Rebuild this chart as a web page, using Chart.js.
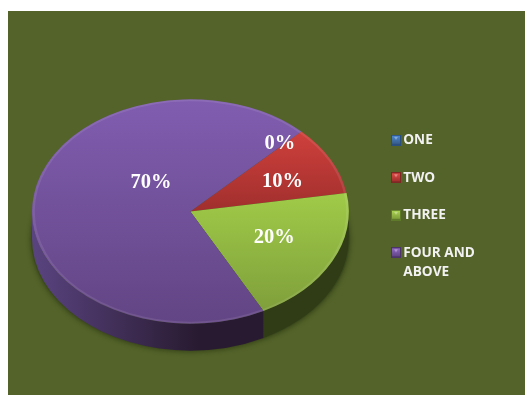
<!DOCTYPE html>
<html>
<head>
<meta charset="utf-8">
<style>html,body{margin:0;padding:0;background:#fff}canvas{display:block}</style>
<script src="https://cdn.jsdelivr.net/npm/chart.js@4"></script>
</head>
<body>
<canvas id="pie" width="525" height="395"></canvas>
<script>
const categories = ['ONE', 'TWO', 'THREE', ['FOUR AND', 'ABOVE']];
const shares = [0, 10, 20, 70];
const sliceTop = ['#4f81bd', '#cf403c', '#a0cb48', '#815db0'];
const sliceBottom = ['#385d8a', '#a02f2d', '#7f9f3b', '#624584'];
const wallStops = [
  ['#2c4668', '#2c4668'],
  ['#5c2422', '#5c2422'],
  ['#2f3c15', '#3f4f20'],
  ['#5a4480', '#281a30']
];
const legendSwatchTop = ['#4a86d0', '#e04a45', '#a9d44f', '#8f66c4'];
const legendSwatchEdge = ['#2b4f7e', '#7e2826', '#5f7a2b', '#4c3468'];

const TILT = 0.708;
const DEPTH = 27;
const ROTATION = 44.5;
const PANEL = { x: 8, y: 11, color: '#536329' };
const LEGEND_AT = { x: 395.5, y: 133.5 };
const labelNudge = [[34, -27.5], [22, -4], [13, 1], [39, -21]];

// Small bevelled square used as the legend marker.
function swatch(i) {
  const c = document.createElement('canvas');
  c.width = 10; c.height = 11;
  const g = c.getContext('2d');
  g.fillStyle = legendSwatchEdge[i];
  g.fillRect(0, 0, 10, 11);
  const grad = g.createLinearGradient(0, 1, 0, 9);
  grad.addColorStop(0, legendSwatchTop[i]);
  grad.addColorStop(1, sliceBottom[i]);
  g.fillStyle = grad;
  g.fillRect(1, 1, 8, 8);
  g.fillStyle = 'rgba(255,255,255,0.35)';
  g.beginPath(); g.moveTo(3, 2); g.lineTo(7, 2); g.lineTo(5, 5); g.closePath(); g.fill();
  return c;
}

// Vertical gradient spanning the on-screen extent of one slice.
function sliceFill(ctx) {
  const chart = ctx.chart, area = chart.chartArea, i = ctx.dataIndex;
  if (!area) return sliceTop[i];
  const total = shares.reduce((a, b) => a + b, 0);
  const before = shares.slice(0, i).reduce((a, b) => a + b, 0);
  const rot = ROTATION * Math.PI / 180 - Math.PI / 2;
  const a0 = rot + 2 * Math.PI * before / total;
  const a1 = a0 + 2 * Math.PI * shares[i] / total;
  const cy = (area.top + area.bottom) / 2, r = (area.bottom - area.top) / 2;
  let top = Math.min(0, Math.sin(a0), Math.sin(a1));
  let bottom = Math.max(0, Math.sin(a0), Math.sin(a1));
  for (let k = -2; k < 4; k++) {
    const a = Math.PI / 2 + k * Math.PI;
    if (a > a0 && a < a1) {
      top = Math.min(top, Math.sin(a));
      bottom = Math.max(bottom, Math.sin(a));
    }
  }
  const g = chart.ctx.createLinearGradient(0, cy + r * top, 0, cy + r * bottom + 0.01);
  g.addColorStop(0, sliceTop[i]);
  g.addColorStop(1, sliceBottom[i]);
  return g;
}

const backdrop = {
  id: 'backdrop',
  beforeDraw(chart) {
    const c = chart.ctx;
    c.save();
    c.fillStyle = '#ffffff';
    c.fillRect(0, 0, chart.width, chart.height);
    c.fillStyle = PANEL.color;
    c.fillRect(PANEL.x, PANEL.y, chart.width - PANEL.x, chart.height - PANEL.y);
    c.restore();
  }
};

// Moves the legend box next to the pie once layout has run.
const legendPlacer = {
  id: 'legendPlacer',
  afterLayout(chart) {
    const l = chart.legend, w = l.width, h = l.height;
    l.left = LEGEND_AT.x - chart.options.plugins.legend.labels.padding;
    l.right = l.left + w;
    l.top = LEGEND_AT.y - chart.options.plugins.legend.labels.padding;
    l.bottom = l.top + h;
    l.adjustHitBoxes();
  }
};

// Tilts the disc and draws its side wall and rim around the library's arcs.
const disc = {
  id: 'disc',
  beforeDatasetsDraw(chart) {
    const c = chart.ctx;
    const arcs = chart.getDatasetMeta(0).data;
    const { x: cx, y: cy, outerRadius: r } = arcs[1].getProps(['x', 'y', 'outerRadius'], true);
    const ry = r * TILT;
    c.save();
    // Soft shadow beneath the wall.
    c.save();
    c.shadowColor = 'rgba(20,25,5,0.5)';
    c.shadowBlur = 5;
    c.shadowOffsetY = 1;
    c.fillStyle = '#3a4a1c';
    c.beginPath();
    c.ellipse(cx, cy + DEPTH, r + 1, ry, 0, 0, Math.PI * 2);
    c.fill();
    c.restore();
    arcs.forEach((el, i) => {
      const p = el.getProps(['startAngle', 'endAngle'], true);
      if (p.endAngle - p.startAngle <= 0) return;
      const ranges = [[p.startAngle, p.endAngle], [p.startAngle - 2 * Math.PI, p.endAngle - 2 * Math.PI]];
      ranges.forEach(([s, e]) => {
        const a = Math.max(s, 0), b = Math.min(e, Math.PI);
        if (b <= a) return;
        const x0 = cx + r * Math.cos(b), x1 = cx + r * Math.cos(a);
        const g = c.createLinearGradient(x0, 0, x1, 0);
        g.addColorStop(0, wallStops[i][0]);
        g.addColorStop(i === 3 ? 0.72 : 1, i === 2 ? wallStops[i][0] : wallStops[i][1]);
        g.addColorStop(1, wallStops[i][1]);
        c.fillStyle = g;
        c.beginPath();
        c.ellipse(cx, cy, r, ry, 0, a, b);
        c.ellipse(cx, cy + DEPTH, r, ry, 0, b, a, true);
        c.closePath();
        c.fill();
      });
    });
    c.restore();
    c.save();
    c.translate(0, cy);
    c.scale(1, TILT);
    c.translate(0, -cy);
  },
  afterDatasetsDraw(chart) {
    const c = chart.ctx;
    const arcs = chart.getDatasetMeta(0).data;
    const { x: cx, y: cy, outerRadius: r } = arcs[1].getProps(['x', 'y', 'outerRadius'], true);
    // Bevel along the outer edge of each slice.
    arcs.forEach((el) => {
      const p = el.getProps(['startAngle', 'endAngle'], true);
      if (p.endAngle - p.startAngle <= 0) return;
      c.lineWidth = 2.5;
      c.strokeStyle = 'rgba(255,255,255,0.09)';
      c.beginPath();
      c.arc(cx, cy, r - 1.5, p.startAngle, p.endAngle);
      c.stroke();
    });
    c.restore();
  }
};

// Percent labels, anchored to each arc's mid-point on the tilted disc.
const percentLabels = {
  id: 'percentLabels',
  afterDraw(chart) {
    const c = chart.ctx;
    const total = shares.reduce((a, b) => a + b, 0);
    c.save();
    c.font = 'bold 20.5px "Liberation Serif"';
    c.fillStyle = '#ffffff';
    c.textAlign = 'center';
    c.textBaseline = 'middle';
    chart.getDatasetMeta(0).data.forEach((el, i) => {
      const p = el.getProps(['x', 'y', 'startAngle', 'endAngle', 'outerRadius'], true);
      const mid = (p.startAngle + p.endAngle) / 2;
      const x = p.x + 0.5 * p.outerRadius * Math.cos(mid) + labelNudge[i][0];
      const y = p.y + 0.5 * p.outerRadius * TILT * Math.sin(mid) + labelNudge[i][1];
      c.fillText(Math.round(shares[i] / total * 100) + '%', x, y);
    });
    c.restore();
  }
};

new Chart(document.getElementById('pie'), {
  type: 'pie',
  data: {
    labels: categories,
    datasets: [{
      data: shares,
      backgroundColor: sliceFill,
      borderWidth: 0,
      hoverOffset: 0
    }]
  },
  plugins: [backdrop, legendPlacer, disc, percentLabels],
  options: {
    responsive: false,
    animation: false,
    rotation: ROTATION,
    layout: { padding: { left: 32, top: 53, bottom: 25, right: 63 } },
    plugins: {
      tooltip: { enabled: false },
      legend: {
        position: 'right',
        align: 'start',
        labels: {
          boxWidth: 1,
          boxHeight: 1,
          usePointStyle: true,
          padding: 23.9,
          color: '#f2f2f2',
          font: { family: '"Open Sans"', weight: 'bold', size: 13.6, lineHeight: 1.4 },
          generateLabels: () => categories.map((text, i) => ({
            text,
            index: i,
            pointStyle: swatch(i),
            fontColor: '#f2f2f2',
            fillStyle: sliceTop[i],
            strokeStyle: 'transparent',
            lineWidth: 0,
            hidden: false
          }))
        }
      }
    }
  }
});
</script>
</body>
</html>
